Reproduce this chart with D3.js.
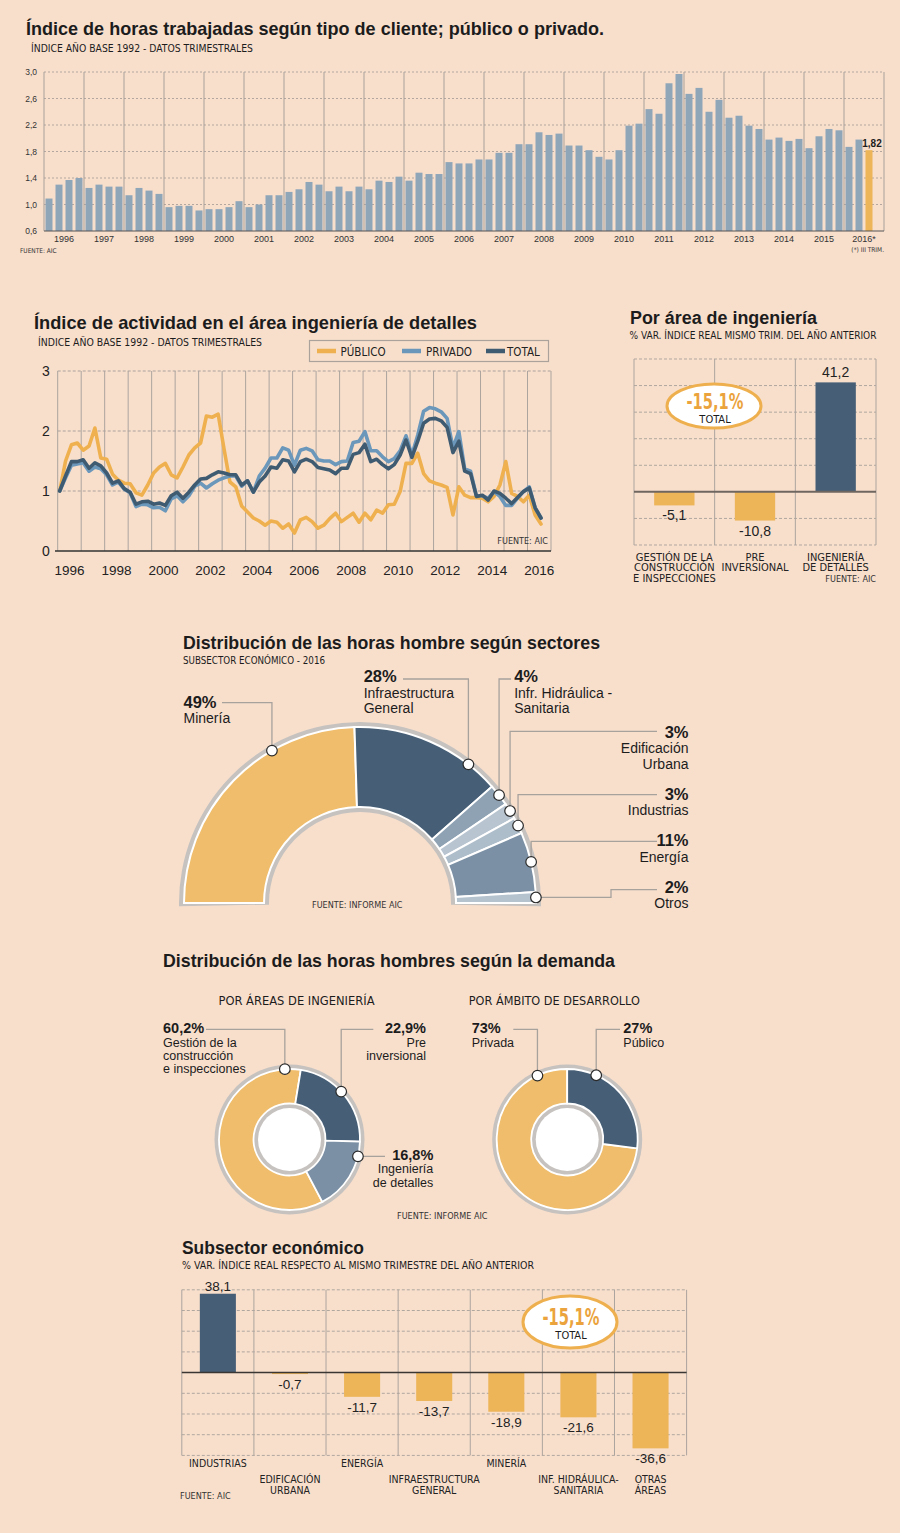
<!DOCTYPE html>
<html>
<head>
<meta charset="utf-8">
<script src="https://cdn.jsdelivr.net/npm/d3@7"></script>
<style>
  body { margin: 0; background: #f8dfcc; }
  svg { display: block; }
</style>
</head>
<body>
<script>
// ---------- data ----------
var topYears = [1996, 1997, 1998, 1999, 2000, 2001, 2002, 2003, 2004, 2005, 2006,
                2007, 2008, 2009, 2010, 2011, 2012, 2013, 2014, 2015, 2016];
var topYearLabels = ["1996", "1997", "1998", "1999", "2000", "2001", "2002", "2003", "2004", "2005", "2006",
                     "2007", "2008", "2009", "2010", "2011", "2012", "2013", "2014", "2015", "2016*"];
var topTicks = [0.6, 1.0, 1.4, 1.8, 2.2, 2.6, 3.0];
// quarterly index, 1996 Q1 .. 2016 Q3
var hoursIndex = [
  1.09, 1.30, 1.37, 1.40,   1.25, 1.30, 1.27, 1.27,   1.14, 1.25, 1.21, 1.16,
  0.96, 0.98, 0.98, 0.91,   0.93, 0.93, 0.96, 1.05,   0.96, 1.00, 1.14, 1.14,
  1.19, 1.23, 1.34, 1.30,   1.20, 1.27, 1.20, 1.27,   1.23, 1.36, 1.34, 1.42,
  1.36, 1.48, 1.46, 1.46,   1.64, 1.62, 1.62, 1.68,   1.68, 1.78, 1.78, 1.91,
  1.91, 2.09, 2.05, 2.07,   1.89, 1.89, 1.82, 1.72,   1.68, 1.82, 2.19, 2.22,
  2.44, 2.37, 2.83, 2.97,   2.67, 2.76, 2.40, 2.58,   2.31, 2.34, 2.19, 2.14,
  1.98, 2.01, 1.96, 1.99,   1.85, 2.03, 2.14, 2.12,   1.87, 1.98, 1.82
];

var lineYearTicks = [1996, 1998, 2000, 2002, 2004, 2006, 2008, 2010, 2012, 2014, 2016];
var lineYTicks = [0, 1, 2, 3];
var publico = [
  1.00, 1.50, 1.77, 1.80,  1.68, 1.75, 2.05, 1.55,  1.53, 1.28, 1.18, 1.13,
  1.12, 0.97, 0.93, 1.10,  1.30, 1.40, 1.46, 1.27,  1.22, 1.40, 1.60, 1.72,
  1.80, 2.25, 2.23, 2.28,  1.70, 1.15, 1.07, 0.75,  0.65, 0.55, 0.50, 0.43,
  0.50, 0.48, 0.38, 0.45,  0.30, 0.52, 0.56, 0.49,  0.38, 0.43, 0.54, 0.63,
  0.49, 0.56, 0.63, 0.48,  0.63, 0.52, 0.68, 0.63,  0.77, 0.78, 0.99, 1.46,
  1.46, 1.63, 1.29, 1.17,  1.13, 1.10, 1.06, 0.60,  1.07, 0.93, 0.89, 0.89,
  0.88, 0.82, 0.91, 1.10,  1.49, 0.96, 0.91, 0.82,  0.93, 0.60, 0.45
];
var privado = [
  1.00, 1.22, 1.43, 1.45,  1.47, 1.33, 1.40, 1.37,  1.27, 1.10, 1.15, 1.03,
  0.97, 0.74, 0.78, 0.77,  0.72, 0.73, 0.67, 0.87,  0.92, 0.82, 0.92, 1.08,
  1.13, 1.05, 1.12, 1.18,  1.22, 1.25, 1.25, 1.08,  1.17, 0.98, 1.25, 1.38,
  1.55, 1.55, 1.72, 1.68,  1.43, 1.68, 1.71, 1.67,  1.52, 1.50, 1.50, 1.44,
  1.49, 1.50, 1.81, 1.83,  1.99, 1.67, 1.67, 1.57,  1.49, 1.54, 1.67, 1.92,
  1.60, 1.93, 2.33, 2.39,  2.37, 2.32, 2.21, 1.72,  1.99, 1.37, 1.33, 0.92,
  0.92, 0.88, 0.99, 0.91,  0.76, 0.76, 0.88, 0.99,  1.07, 0.72, 0.55
];
var total = [
  1.00, 1.25, 1.49, 1.49,  1.52, 1.38, 1.47, 1.42,  1.30, 1.13, 1.17, 1.04,
  0.98, 0.78, 0.82, 0.83,  0.78, 0.80, 0.76, 0.92,  0.98, 0.88, 0.98, 1.10,
  1.20, 1.21, 1.27, 1.32,  1.30, 1.27, 1.27, 1.10,  1.17, 0.98, 1.15, 1.25,
  1.40, 1.38, 1.52, 1.50,  1.32, 1.49, 1.53, 1.49,  1.39, 1.37, 1.35, 1.29,
  1.38, 1.38, 1.61, 1.64,  1.78, 1.49, 1.53, 1.44,  1.37, 1.44, 1.60, 1.85,
  1.56, 1.83, 2.13, 2.20,  2.21, 2.17, 2.06, 1.64,  1.83, 1.33, 1.29, 0.91,
  0.93, 0.85, 1.00, 0.96,  0.88, 0.79, 0.89, 0.99,  1.05, 0.72, 0.55
];
var lineNames = ["PÚBLICO", "PRIVADO", "TOTAL"];

var areaCats = ["GESTIÓN DE LA|CONSTRUCCIÓN|E INSPECCIONES", "PRE|INVERSIONAL", "INGENIERÍA|DE DETALLES"];
var areaVals = [-5.1, -10.8, 41.2];
var areaTicks = [-20, -10, 0, 10, 20, 30, 40, 50];

var sectorNames = ["Minería", "Infraestructura|General", "Infr. Hidráulica -|Sanitaria",
                   "Edificación|Urbana", "Industrias", "Energía", "Otros"];
var sectorShares = [49, 28, 4, 3, 3, 11, 2];

var areasNames = ["Gestión de la|construcción|e inspecciones", "Pre|inversional", "Ingeniería|de detalles"];
var areasShares = [60.2, 22.9, 16.8];
var ambitoNames = ["Privada", "Público"];
var ambitoShares = [73, 27];

var subCats = ["INDUSTRIAS", "EDIFICACIÓN|URBANA", "ENERGÍA", "INFRAESTRUCTURA|GENERAL",
               "MINERÍA", "INF. HIDRÁULICA-|SANITARIA", "OTRAS|ÁREAS"];
var subVals = [38.1, -0.7, -11.7, -13.7, -18.9, -21.6, -36.6];
var subTicks = [-40, -30, -20, -10, 0, 10, 20, 30, 40];
var totalVar = -15.1;

// ---------- setup ----------
var BG = "#f8dfcc", ORANGE = "#edb458", LIGHTOR = "#efbd6b", DARK = "#465f76",
    BARBLUE = "#8fa6b9", GRID = "#a9a19b", INK = "#1c1c1c";

function pickFont(list) {
  var ctx = document.createElement("canvas").getContext("2d");
  var probe = "MWIl0 abcdefghijkÁÉ";
  for (var i = 0; i < list.length; i++) {
    ctx.font = "20px monospace";
    var a = ctx.measureText(probe).width;
    ctx.font = "20px '" + list[i] + "', monospace";
    var b = ctx.measureText(probe).width;
    if (a !== b) return "'" + list[i] + "'";
  }
  return null;
}
var SANS = "'Liberation Sans', Arial, sans-serif";
var NAR = (pickFont(["Liberation Sans Narrow", "Arial Narrow", "DejaVu Sans Condensed"]) || "Roboto") + ", " + SANS;

var es = d3.formatLocale({decimal: ",", thousands: ".", grouping: [3], currency: ["", "€"], minus: "-"});
var f1 = es.format(".1f"), fpct = es.format(".1~f");

var svg = d3.select("body").append("svg").attr("width", 900).attr("height", 1533);
svg.append("rect").attr("width", 900).attr("height", 1533).attr("fill", BG);

function txt(g, x, y, s, o) {
  o = o || {};
  var t = g.append("text").attr("x", x).attr("y", y).text(s)
    .attr("font-family", o.fam || SANS)
    .attr("font-size", o.size || 11)
    .attr("font-weight", o.bold ? "bold" : "normal")
    .attr("text-anchor", o.anchor || "start")
    .attr("fill", o.fill || INK);
  if (o.fit) t.attr("textLength", o.fit).attr("lengthAdjust", "spacingAndGlyphs");
  return t;
}
function hline(g, x1, x2, y, o) {
  o = o || {};
  return g.append("line").attr("x1", x1).attr("x2", x2).attr("y1", y).attr("y2", y)
    .attr("stroke", o.color || GRID).attr("stroke-width", o.w || 1)
    .attr("stroke-dasharray", o.dash || null);
}
function vline(g, x, y1, y2, o) {
  o = o || {};
  return g.append("line").attr("x1", x).attr("x2", x).attr("y1", y1).attr("y2", y2)
    .attr("stroke", o.color || GRID).attr("stroke-width", o.w || 1);
}
function ellipseTotal(g, cx, cy, rx, ry, size) {
  g.append("ellipse").attr("cx", cx).attr("cy", cy).attr("rx", rx).attr("ry", ry)
    .attr("fill", "#fff").attr("stroke", "#eeb04f").attr("stroke-width", 3);
  txt(g, cx + 1, cy + 3, f1(totalVar) + "%", {size: size, bold: true, fam: NAR, anchor: "middle", fill: "#eba33d", fit: 57});
  txt(g, cx + 1, cy + 17, "TOTAL", {size: 11, fam: NAR, anchor: "middle"});
}

// ---------- 1. horas trabajadas ----------
var g1 = svg.append("g");
txt(g1, 26, 35, "Índice de horas trabajadas según tipo de cliente; público o privado.", {size: 19, bold: true, fit: 578});
txt(g1, 31, 52, "ÍNDICE AÑO BASE 1992 - DATOS TRIMESTRALES", {size: 10, fam: NAR, fit: 222});

var quarterKeys = [];
topYears.forEach(function(y) { [1, 2, 3, 4].forEach(function(q) { quarterKeys.push(y + "-" + q); }); });
var x1 = d3.scaleBand().domain(quarterKeys).range([44, 884]).paddingInner(0.3).paddingOuter(0.15);
var yr1 = d3.scaleLinear().domain([1996, 2017]).range([44, 884]);
var y1 = d3.scaleLinear().domain([0.6, 3.0]).range([231, 72]);

topTicks.slice(1).forEach(function(t) { hline(g1, 44, 884, y1(t), {dash: "2,2", color: "#b3a79f"}); });
d3.range(1996, 2018).forEach(function(y) { vline(g1, yr1(y), 72, 231, {color: "#a8a09a"}); });

g1.append("g").attr("transform", "translate(40,0)")
  .call(d3.axisLeft(y1).tickValues(topTicks).tickFormat(f1).tickSize(0))
  .call(function(a) { a.select(".domain").remove(); })
  .selectAll("text").attr("font-family", SANS).attr("font-size", 8.5).attr("fill", "#333").attr("dy", "0.32em");

g1.selectAll(".bar").data(hoursIndex).enter().append("rect")
  .attr("x", function(d, i) { return x1(quarterKeys[i]); })
  .attr("y", function(d) { return y1(d); })
  .attr("width", x1.bandwidth())
  .attr("height", function(d) { return y1(0.6) - y1(d); })
  .attr("fill", function(d, i) { return i === hoursIndex.length - 1 ? ORANGE : BARBLUE; });

hline(g1, 44, 884, y1(0.6), {color: "#555", w: 1});

var lastI = hoursIndex.length - 1;
txt(g1, x1(quarterKeys[lastI]) + x1.bandwidth() / 2 + 3, y1(hoursIndex[lastI]) - 3, es.format(".2f")(hoursIndex[lastI]), {size: 10, bold: true, anchor: "middle"});

topYears.forEach(function(y, i) {
  txt(g1, yr1(y + 0.5), 242, topYearLabels[i], {size: 9, anchor: "middle", fill: "#333"});
});
txt(g1, 20, 253, "FUENTE: AIC", {size: 6.5, fam: NAR, fill: "#333"});
txt(g1, 884, 252, "(*) III TRIM.", {size: 6.5, fam: NAR, anchor: "end", fill: "#333"});

// ---------- 2. índice de actividad ----------
var g2 = svg.append("g");
txt(g2, 34, 329, "Índice de actividad en el área ingeniería de detalles", {size: 19, bold: true, fit: 443});
txt(g2, 38, 346, "ÍNDICE AÑO BASE 1992 - DATOS TRIMESTRALES", {size: 10.5, fam: NAR, fit: 224});

var yr2 = d3.scaleLinear().domain([1996, 2017]).range([57.7, 551]);
var xq2 = d3.scaleLinear().domain([0, publico.length - 1]).range([59.7, 541]);
var y2 = d3.scaleLinear().domain([0, 3]).range([551, 371]);

lineYTicks.slice(1).forEach(function(t) { hline(g2, 57.7, 551, y2(t), {dash: "3,2", color: "#aaa19a"}); });
d3.range(1996, 2018).forEach(function(y) { vline(g2, yr2(y), 371, 551, {color: "#aca49e"}); });
hline(g2, 55, 551, y2(0), {color: "#333", w: 1.5});

lineYTicks.forEach(function(t) { txt(g2, 46, y2(t) + 5, t, {size: 14, anchor: "middle", fill: "#222"}); });
lineYearTicks.forEach(function(y) { txt(g2, yr2(y + 0.5), 575, y, {size: 13.5, anchor: "middle", fill: "#222"}); });

var lineColors = ["#efb14f", "#6b97bb", "#3f5b72"];
var line2 = d3.line().x(function(d, i) { return xq2(i); }).y(function(d) { return y2(d); });
[publico, privado, total].forEach(function(s, k) {
  g2.append("path").datum(s).attr("d", line2).attr("fill", "none")
    .attr("stroke", lineColors[k]).attr("stroke-width", 3.6)
    .attr("stroke-linejoin", "round").attr("stroke-linecap", "round");
});
txt(g2, 548, 544, "FUENTE: AIC", {size: 9, fam: NAR, anchor: "end", fill: "#333"});

// legend
g2.append("rect").attr("x", 309.5).attr("y", 340.5).attr("width", 239).attr("height", 21)
  .attr("fill", "none").attr("stroke", "#aaa29b").attr("stroke-width", 1.2);
var legX = [317, 402, 486], legT = [340.5, 426, 507];
lineNames.forEach(function(n, k) {
  hline(g2, legX[k], legX[k] + 19, 351, {color: lineColors[k], w: 4.5});
  txt(g2, legT[k], 355.5, n, {size: 11.5, fam: NAR, fill: "#222"});
});

// ---------- 3. por área de ingeniería ----------
var g3 = svg.append("g");
txt(g3, 630, 324, "Por área de ingeniería", {size: 18, bold: true, fit: 187});
txt(g3, 629.5, 338.5, "% VAR. ÍNDICE REAL MISMO TRIM. DEL AÑO ANTERIOR", {size: 10.5, fam: NAR, fit: 247});

var x3 = d3.scaleBand().domain(d3.range(areaVals.length)).range([634, 876]).paddingInner(0.5).paddingOuter(0.25);
var y3 = d3.scaleLinear().domain([-20, 50]).range([545, 359]);
areaTicks.forEach(function(t) { if (t !== 0) hline(g3, 634, 876, y3(t), {dash: "3,2", color: "#b0a79f"}); });
d3.range(areaVals.length + 1).forEach(function(k) { vline(g3, 634 + k * x3.step(), 359, 545, {color: "#aca49e"}); });

g3.selectAll(".bar").data(areaVals).enter().append("rect")
  .attr("x", function(d, i) { return x3(i); })
  .attr("y", function(d) { return y3(Math.max(0, d)); })
  .attr("width", x3.bandwidth())
  .attr("height", function(d) { return Math.abs(y3(d) - y3(0)); })
  .attr("fill", function(d) { return d < 0 ? ORANGE : DARK; });
hline(g3, 634, 876, y3(0), {color: "#6f6660", w: 2});

areaVals.forEach(function(d, i) {
  var cx = x3(i) + x3.bandwidth() / 2;
  txt(g3, cx, d < 0 ? y3(d) + 15 : y3(d) - 5, f1(d), {size: 14, anchor: "middle", fill: "#222"});
  areaCats[i].split("|").forEach(function(l, j) {
    txt(g3, cx, 560.5 + j * 10.8, l, {size: 11, fam: NAR, anchor: "middle", fill: "#222"});
  });
});
txt(g3, 876, 582, "FUENTE: AIC", {size: 9, fam: NAR, anchor: "end", fill: "#333"});
ellipseTotal(g3, 714, 406, 47, 22, 21);

// ---------- 4. sectores (semi donut) ----------
var g4 = svg.append("g");
txt(g4, 183, 648.5, "Distribución de las horas hombre según sectores", {size: 19, bold: true, fit: 417});
txt(g4, 183, 664, "SUBSECTOR ECONÓMICO - 2016", {size: 10.5, fam: NAR, fit: 142});

var c4 = {x: 360, y: 903};
var sectorColors = [LIGHTOR, DARK, "#8ea2b4", "#b8c5d1", "#aebdca", "#7b90a4", "#b5c3cf"];
var pie4 = d3.pie().sort(null).startAngle(-Math.PI / 2).endAngle(Math.PI / 2);
var arcs4 = pie4(sectorShares);
var gg4 = g4.append("g").attr("transform", "translate(" + c4.x + "," + c4.y + ")");
gg4.append("path").attr("fill", "#c6c2bf")
  .attr("d", d3.arc()({innerRadius: 91, outerRadius: 181, startAngle: -Math.PI / 2 - 0.018, endAngle: Math.PI / 2 + 0.018}));
gg4.selectAll(".seg").data(arcs4).enter().append("path")
  .attr("d", d3.arc().innerRadius(96).outerRadius(176))
  .attr("fill", function(d, i) { return sectorColors[i]; })
  .attr("stroke", "#fff").attr("stroke-width", 2);

// label layout: where the dot sits inside each slice, and where the leader / text go
var sectorLayout = [
  {at: 0.68, route: [["v", 702.7], ["h", 222]], tx: 183.5, ty: 707.8, anchor: "start"},
  {at: 0.79, route: [["v", 679], ["h", 403]], tx: 363.7, ty: 682.4, anchor: "start"},
  {at: 0.5, route: [["v", 679], ["h", 511]], tx: 514.2, ty: 682.4, anchor: "start"},
  {at: 0.5, route: [["v", 731.4], ["h", 657]], tx: 688.5, ty: 738.2, anchor: "end"},
  {at: 0.5, route: [["v", 794.6], ["h", 657]], tx: 688.5, ty: 800, anchor: "end"},
  {at: 0.5, route: [["v", 841.3], ["h", 657]], tx: 688.5, ty: 846.4, anchor: "end"},
  {at: 0.5, route: [["h", 611], ["v", 889.6], ["h", 657]], tx: 688.5, ty: 893, anchor: "end"}
];

function dotAt(a, frac, cx, cy, r) {
  var ang = a.startAngle + frac * (a.endAngle - a.startAngle);
  return [cx + r * Math.sin(ang), cy - r * Math.cos(ang)];
}
function leader(g, p, route) {
  var pts = [p.slice()], cur = p.slice();
  route.forEach(function(s) {
    cur = s[0] === "v" ? [cur[0], s[1]] : [s[1], cur[1]];
    pts.push(cur);
  });
  g.append("path").attr("d", d3.line()(pts)).attr("fill", "none")
    .attr("stroke", "#a8a29d").attr("stroke-width", 1.3);
}
function dot(g, p) {
  g.append("circle").attr("cx", p[0]).attr("cy", p[1]).attr("r", 5.3)
    .attr("fill", "#fff").attr("stroke", "#2a2a2a").attr("stroke-width", 1.2);
}

arcs4.forEach(function(a, i) {
  var L = sectorLayout[i];
  var p = dotAt(a, L.at, c4.x, c4.y, 176);
  leader(g4, p, L.route);
  dot(g4, p);
  txt(g4, L.tx, L.ty, sectorShares[i] + "%", {size: 16.5, bold: true, anchor: L.anchor});
  sectorNames[i].split("|").forEach(function(l, j) {
    txt(g4, L.tx, L.ty + 15.2 * (j + 1), l, {size: 14, anchor: L.anchor});
  });
});
txt(g4, 312, 908, "FUENTE: INFORME AIC", {size: 9, fam: NAR, fill: "#333"});

// ---------- 5. según la demanda (donuts) ----------
var g5 = svg.append("g");
txt(g5, 163, 967, "Distribución de las horas hombres según la demanda", {size: 19, bold: true, fit: 452});
txt(g5, 296.5, 1004.5, "POR ÁREAS DE INGENIERÍA", {size: 12, fam: NAR, anchor: "middle", fit: 156});
txt(g5, 554.3, 1004.5, "POR ÁMBITO DE DESARROLLO", {size: 12, fam: NAR, anchor: "middle", fit: 171});

var deg = Math.PI / 180;
var donuts = [
  {names: areasNames, shares: areasShares, colors: [LIGHTOR, DARK, "#7b90a4"], cx: 289.5, cy: 1139.5,
   start: 9 * deg - 2 * Math.PI * areasShares[0] / 100,
   layout: [
     {at: 0.94, route: [["v", 1029.3], ["h", 206]], tx: 163, ty: 1033.3, anchor: "start"},
     {at: 0.46, route: [["v", 1029.3], ["h", 373.3]], tx: 426, ty: 1033.3, anchor: "end"},
     {at: 0.2, route: [["h", 385]], tx: 433.3, ty: 1160, anchor: "end"}
   ]},
  {names: ambitoNames, shares: ambitoShares, colors: [LIGHTOR, DARK], cx: 567.2, cy: 1139.5,
   start: 2 * Math.PI * ambitoShares[1] / 100,
   layout: [
     {at: 0.905, route: [["v", 1029.3], ["h", 513.3]], tx: 471.7, ty: 1033.3, anchor: "start"},
     {at: 0.25, route: [["v", 1029.3], ["h", 620]], tx: 623.3, ty: 1033.3, anchor: "start"}
   ]}
];
donuts.forEach(function(D) {
  var gd = g5.append("g").attr("transform", "translate(" + D.cx + "," + D.cy + ")");
  gd.append("circle").attr("r", 75).attr("fill", "#c6c2bf");
  var arcs = d3.pie().sort(null).startAngle(D.start).endAngle(D.start + 2 * Math.PI)(D.shares);
  gd.selectAll(".seg").data(arcs).enter().append("path")
    .attr("d", d3.arc().innerRadius(36).outerRadius(70.5))
    .attr("fill", function(d, i) { return D.colors[i]; })
    .attr("stroke", "#fff").attr("stroke-width", 1.8);
  gd.append("circle").attr("r", 31.5).attr("fill", "#fff");
  arcs.forEach(function(a, i) {
    var L = D.layout[i];
    var p = dotAt(a, L.at, D.cx, D.cy, 70.5);
    leader(g5, p, L.route);
    dot(g5, p);
    txt(g5, L.tx, L.ty, fpct(D.shares[i]) + "%", {size: 14.5, bold: true, anchor: L.anchor});
    D.names[i].split("|").forEach(function(l, j) {
      txt(g5, L.tx, L.ty + 13.3 * (j + 1), l, {size: 12.5, anchor: L.anchor});
    });
  });
});
txt(g5, 397, 1218.5, "FUENTE: INFORME AIC", {size: 9, fam: NAR, fill: "#333"});

// ---------- 6. subsector económico ----------
var g6 = svg.append("g");
txt(g6, 182, 1253.5, "Subsector económico", {size: 19, bold: true, fit: 182});
txt(g6, 182, 1269, "% VAR. ÍNDICE REAL RESPECTO AL MISMO TRIMESTRE DEL AÑO ANTERIOR", {size: 10.5, fam: NAR, fit: 352});

var x6 = d3.scaleBand().domain(d3.range(subVals.length)).range([181.8, 686.6]).paddingInner(0.5).paddingOuter(0.25);
var y6 = d3.scaleLinear().domain([-40, 40]).range([1455.4, 1289.8]);
subTicks.forEach(function(t) { if (t !== 0) hline(g6, 181.8, 686.6, y6(t), {dash: "3,2", color: "#b0a79f"}); });
d3.range(subVals.length + 1).forEach(function(k) { vline(g6, 181.8 + k * x6.step(), 1289.8, 1455.4, {color: "#aca49e"}); });

g6.selectAll(".bar").data(subVals).enter().append("rect")
  .attr("x", function(d, i) { return x6(i); })
  .attr("y", function(d) { return y6(Math.max(0, d)); })
  .attr("width", x6.bandwidth())
  .attr("height", function(d) { return Math.abs(y6(d) - y6(0)); })
  .attr("fill", function(d) { return d < 0 ? ORANGE : DARK; });
hline(g6, 181.8, 686.6, y6(0), {color: "#3a3633", w: 1.5});

var subRow = [0, 1, 0, 1, 0, 1, 1];
subVals.forEach(function(d, i) {
  var cx = x6(i) + x6.bandwidth() / 2;
  txt(g6, cx, d < 0 ? y6(d) + 15 : y6(d) - 3, f1(d), {size: 13.5, anchor: "middle", fill: "#222"});
  subCats[i].split("|").forEach(function(l, j) {
    txt(g6, cx, (subRow[i] ? 1483 : 1467) + j * 10.5, l, {size: 10.5, fam: NAR, anchor: "middle", fill: "#222"});
  });
});
txt(g6, 180, 1499, "FUENTE: AIC", {size: 9, fam: NAR, fill: "#333"});
ellipseTotal(g6, 570, 1322, 47, 26, 23);
</script>
</body>
</html>
